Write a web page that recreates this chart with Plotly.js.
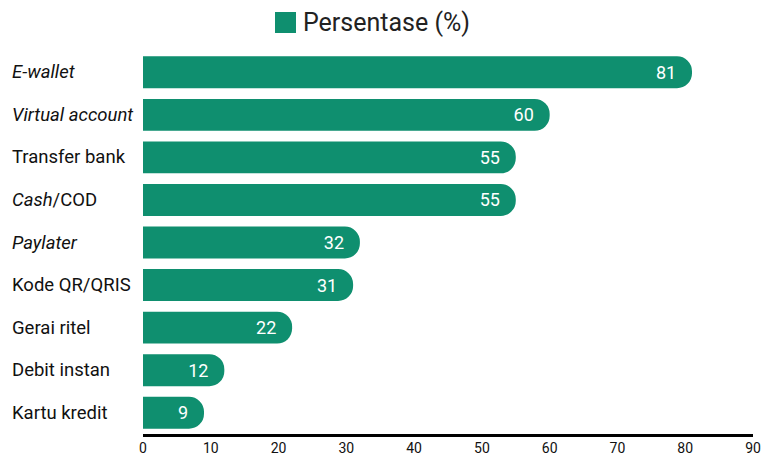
<!DOCTYPE html>
<html>
<head>
<meta charset="utf-8">
<script src="https://cdn.plot.ly/plotly-3.0.1.min.js"></script>
<style>html,body{margin:0;padding:0;background:#fff;}#chart{width:768px;height:455px;}</style>
</head>
<body>
<div id="chart"></div>
<script>
const categories = ["E-wallet", "Virtual account", "Transfer bank", "Cash/COD", "Paylater", "Kode QR/QRIS", "Gerai ritel", "Debit instan", "Kartu kredit"];
const labelTexts = ["<i>E-wallet</i>", "<i>Virtual account</i>", "Transfer bank", "<i>Cash</i>/COD", "<i>Paylater</i>", "Kode QR/QRIS", "Gerai ritel", "Debit instan", "Kartu kredit"];
const values = [81, 60, 55, 55, 32, 31, 22, 12, 9];
const seriesName = "Persentase (%)";
const xTicks = [0, 10, 20, 30, 40, 50, 60, 70, 80, 90];

const green = "#0F8F6F";
const font = "Roboto, 'Liberation Sans', sans-serif";

const trace = {
  type: "bar",
  orientation: "h",
  y: categories,
  x: values,
  name: seriesName,
  marker: {color: green, cornerradius: "50%"},
  width: 0.75,
  texttemplate: "%{x}\u00a0\u2009",
  textposition: "inside",
  insidetextanchor: "end",
  constraintext: "none",
  textfont: {color: "#ffffff", size: 18, family: font},
  hoverinfo: "x+y",
  showlegend: false
};

const annotations = categories.map((c, i) => ({
  xref: "paper", yref: "y",
  x: -0.2164, y: c,
  xanchor: "left", yanchor: "middle",
  text: labelTexts[i],
  showarrow: false,
  borderpad: 0,
  font: {size: 18.5, color: "#111111", family: font}
}));
annotations.push({
  xref: "paper", yref: "paper",
  x: 0.2607, y: 1.0757,
  xanchor: "left", yanchor: "middle",
  text: seriesName,
  showarrow: false,
  borderpad: 0,
  font: {size: 25, color: "#222222", family: font}
});

const layout = {
  width: 768, height: 455,
  margin: {l: 143, r: 15, t: 51, b: 21},
  paper_bgcolor: "#ffffff",
  plot_bgcolor: "#ffffff",
  font: {family: font, color: "#111111"},
  bargap: 0.25,
  xaxis: {
    range: [0, 90],
    tickvals: xTicks,
    ticktext: xTicks.map(String),
    showgrid: false,
    zeroline: false,
    showline: true,
    linecolor: "#000000",
    linewidth: 2.5,
    ticks: "",
    tickfont: {size: 14, color: "#111111", family: font},
    fixedrange: true
  },
  yaxis: {
    type: "category",
    autorange: "reversed",
    showticklabels: false,
    showgrid: false,
    zeroline: false,
    showline: false,
    ticks: "",
    fixedrange: true
  },
  shapes: [{
    type: "rect", xref: "paper", yref: "paper",
    x0: 0.2164, x1: 0.2508, y0: 1.047, y1: 1.1018,
    fillcolor: green, line: {width: 0}
  }],
  annotations: annotations,
  showlegend: false
};

Plotly.newPlot("chart", [trace], layout, {displayModeBar: false, staticPlot: true});
</script>
</body>
</html>
